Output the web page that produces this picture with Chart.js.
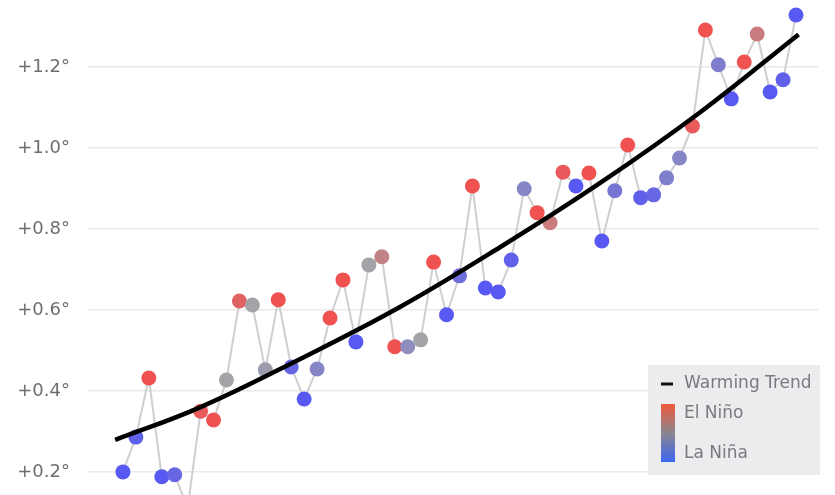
<!DOCTYPE html>
<html>
<head>
<meta charset="utf-8">
<script src="https://cdn.jsdelivr.net/npm/chart.js@4"></script>
<style>
  html, body { margin: 0; padding: 0; background: #ffffff; }
  #wrap { width: 835px; height: 495px; }
</style>
</head>
<body>
<div id="wrap"><canvas id="warmingChart"></canvas></div>
<script>
// years and annual anomalies (°C)
const years = [];
for (let y = 1970; y <= 2022; y++) years.push(y);

const anomalies = [
    0.20, 0.286, 0.432, 0.188, 0.193, 0.11, 0.35, 0.328, 0.427, 0.622,
    0.612, 0.452, 0.625, 0.459, 0.38, 0.454, 0.58, 0.674, 0.521, 0.711,
    0.731, 0.509, 0.509, 0.526, 0.718, 0.588, 0.684, 0.906, 0.654, 0.644,
    0.723, 0.899, 0.84, 0.815, 0.94, 0.906, 0.938, 0.77, 0.894, 1.007,
    0.877, 0.884, 0.926, 0.975, 1.054, 1.291, 1.205, 1.121, 1.212, 1.281,
    1.138, 1.168, 1.328
];

// ENSO state: +1 El Niño (red) ... -1 La Niña (blue)
const enso = [
    -1, -0.9, 1, -1, -0.8, -0.5, 0.9, 1, 0, 0.8,
    0, -0.1, 1, -0.8, -1, -0.4, 1, 1, -1, 0,
    0.4, 1, -0.3, 0, 1, -1, -0.7, 1, -1, -1,
    -0.9, -0.4, 1, 0.5, 0.9, -1, 1, -1, -0.6, 1,
    -0.9, -0.8, -0.5, -0.4, 0.9, 1, -0.5, -1, 1, 0.5,
    -1, -0.9, -1
];

// warming trend curve, read at a few positions (year offset from 1970)
const trendX = [-0.6, 6, 13.7, 21.4, 29.1, 36.9, 44.6, 52.2];
const trendY = [0.279, 0.36, 0.479, 0.607, 0.754, 0.914, 1.088, 1.28];

const yTicks = [0.2, 0.4, 0.6, 0.8, 1.0, 1.2];

function mix(a, b, t) {
    return a.map((v, i) => Math.round(v + (b[i] - v) * t));
}
function ensoColor(v) {
    const red = [240, 82, 82], gray = [164, 164, 168], blue = [88, 88, 242];
    const c = v >= 0 ? mix(gray, red, v) : mix(gray, blue, -v);
    return `rgb(${c[0]},${c[1]},${c[2]})`;
}

const pointColors = enso.map(ensoColor);

// legend box drawn on top
const legendBox = {
    id: 'legendBox',
    afterDraw(chart) {
        const ctx = chart.ctx;
        ctx.save();
        ctx.fillStyle = '#ececef';
        ctx.fillRect(648, 365, 172, 110);
        // trend sample
        ctx.strokeStyle = '#111';
        ctx.lineWidth = 3;
        ctx.beginPath();
        ctx.moveTo(661, 384);
        ctx.lineTo(673, 384);
        ctx.stroke();
        // gradient bar
        const g = ctx.createLinearGradient(0, 404, 0, 462);
        g.addColorStop(0, '#ee5a3c');
        g.addColorStop(0.5, '#8a8690');
        g.addColorStop(1, '#3d66f2');
        ctx.fillStyle = g;
        ctx.fillRect(661, 404, 14, 58);
        ctx.fillStyle = '#7a7a7e';
        ctx.font = '17px "DejaVu Sans", sans-serif';
        ctx.textBaseline = 'middle';
        ctx.fillText('Warming Trend', 684, 384);
        ctx.fillText('El Niño', 684, 414);
        ctx.fillText('La Niña', 684, 454);
        ctx.restore();
    }
};

const ctx = document.getElementById('warmingChart').getContext('2d');

new Chart(ctx, {
    type: 'line',
    data: {
        datasets: [
            {
                label: 'Warming Trend',
                data: trendX.map((x, i) => ({ x: x, y: trendY[i] })),
                borderColor: '#000000',
                borderWidth: 4.5,
                pointRadius: 0,
                tension: 0.4,
                order: 0
            },
            {
                label: 'Anomaly',
                data: anomalies.map((v, i) => ({ x: years[i] - 1970, y: v })),
                borderColor: '#cfcfcf',
                borderWidth: 2,
                pointRadius: 7.5,
                pointBorderWidth: 0,
                pointBackgroundColor: pointColors,
                pointBorderColor: pointColors,
                tension: 0,
                order: 1
            }
        ]
    },
    options: {
        responsive: true,
        maintainAspectRatio: false,
        animation: false,
        layout: { autoPadding: false, padding: { left: 0, right: 17, top: 0, bottom: 0 } },
        scales: {
            x: {
                type: 'linear',
                display: false,
                min: -2.7,
                max: 53.7
            },
            y: {
                min: 0.143,
                max: 1.365,
                afterBuildTicks: axis => {
                    axis.ticks = yTicks.map(v => ({ value: v }));
                },
                afterFit: axis => {
                    axis.width = 88;
                    axis.paddingTop = 0;
                    axis.paddingBottom = 0;
                },
                border: { display: false },
                grid: {
                    color: '#eaeaea',
                    lineWidth: 1.5,
                    drawTicks: false
                },
                ticks: {
                    padding: 18,
                    color: '#6e6e6e',
                    font: { family: 'DejaVu Sans', size: 18 },
                    callback: v => '+' + v.toFixed(1) + '°'
                }
            }
        },
        plugins: {
            legend: { display: false },
            tooltip: { enabled: false }
        }
    },
    plugins: [legendBox]
});
</script>
</body>
</html>
